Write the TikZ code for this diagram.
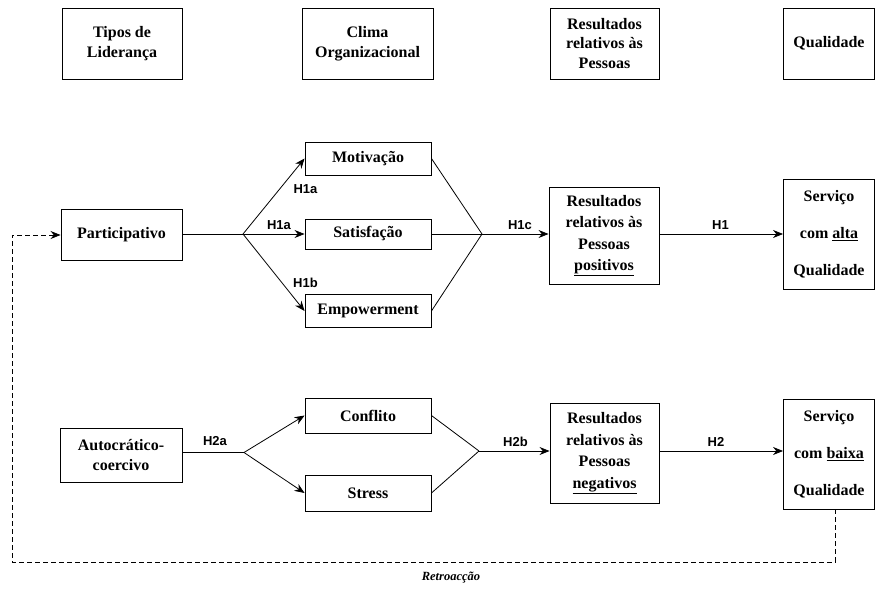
\documentclass[tikz,border=0pt]{standalone}
\usepackage{fontspec}
\setmainfont{Liberation Serif}
\newfontfamily\labfont{Liberation Sans}
\usetikzlibrary{arrows.meta}
\begin{document}
\begin{tikzpicture}[x=1pt,y=-1pt,
  box/.style={draw,line width=0.9pt,inner sep=0pt,align=center,font=\fontsize{16}{19.5}\selectfont\bfseries},
  lab/.style={font=\labfont\bfseries\fontsize{13}{15}\selectfont,inner sep=0pt},
  conn/.style={line width=0.8pt},
  arr/.style={line width=0.8pt,-{Stealth[length=10pt,width=8pt]}},
  fb/.style={line width=0.8pt,dash pattern=on 5pt off 3pt}]
\useasboundingbox (0,0) rectangle (875,594);
% header boxes
\node[box,minimum width=120pt,minimum height=71pt] (tipos) at (122,43.5) {Tipos de\\Liderança};
\node[box,minimum width=131pt,minimum height=71pt] (clima) at (367.5,43.5) {Clima\\Organizacional};
\node[box,minimum width=109pt,minimum height=71pt] (rtop) at (604.5,43.5) {Resultados\\relativos às\\Pessoas};
\node[box,minimum width=91pt,minimum height=71pt] (qtop) at (829,43.5) {Qualidade};
% upper row
\node[box,minimum width=121pt,minimum height=51pt] (part) at (121.5,235) {Participativo};
\node[box,minimum width=126pt,minimum height=33pt] (motiv) at (368,158.5) {Motivação};
\node[box,minimum width=126pt,minimum height=30pt] (satis) at (368,234) {Satisfação};
\node[box,minimum width=126pt,minimum height=33pt] (empow) at (368,311) {Empowerment};
\node[box,minimum width=110pt,minimum height=97pt,font=\fontsize{16}{21.5}\selectfont\bfseries] (rpos) at (604,235.5) {Resultados\\relativos às\\Pessoas\\\underline{positivos}};
\node[box,minimum width=91pt,minimum height=110pt,font=\fontsize{16}{37}\selectfont\bfseries] (alta) at (829,234) {Serviço\\com \underline{alta}\\Qualidade};
\coordinate (b1) at (243,234);
\coordinate (m1) at (482,234);
\draw[conn] (part.east |- b1) -- (b1);
\draw[arr] (b1) -- (motiv.west);
\draw[arr] (b1) -- (satis.west);
\draw[arr] (b1) -- (empow.west);
\draw[conn] (motiv.east) -- (m1);
\draw[conn] (satis.east) -- (m1);
\draw[conn] (empow.east) -- (m1);
\draw[arr] (m1) -- (rpos.west |- m1);
\draw[arr] (rpos.east |- m1) -- (alta.west |- m1);
\node[lab] (l1) at (305.5,189) {H1a};
\node[lab] (l2) at (279,225.5) {H1a};
\node[lab] (l3) at (305.5,283) {H1b};
\node[lab] (l4) at (520,225.5) {H1c};
\node[lab] (l5) at (720.5,225.5) {H1};
% lower row
\node[box,minimum width=122pt,minimum height=54pt] (auto) at (121,455) {Autocrático-\\coercivo};
\node[box,minimum width=126pt,minimum height=35pt] (confl) at (368,415.5) {Conflito};
\node[box,minimum width=126pt,minimum height=36pt] (stress) at (368,493) {Stress};
\node[box,minimum width=109pt,minimum height=100pt,font=\fontsize{16}{21.5}\selectfont\bfseries] (rneg) at (604.5,453) {Resultados\\relativos às\\Pessoas\\\underline{negativos}};
\node[box,minimum width=91pt,minimum height=110pt,font=\fontsize{16}{37}\selectfont\bfseries] (baixa) at (829,454) {Serviço\\com \underline{baixa}\\Qualidade};
\coordinate (b2) at (244,452.5);
\coordinate (m2) at (479,451);
\draw[conn] (auto.east |- b2) -- (b2);
\draw[arr] (b2) -- (confl.west);
\draw[arr] (b2) -- (stress.west);
\draw[conn] (confl.east) -- (m2);
\draw[conn] (stress.east) -- (m2);
\draw[arr] (m2) -- (rneg.west |- m2);
\draw[arr] (rneg.east |- m2) -- (baixa.west |- m2);
\node[lab] (l6) at (215,441.5) {H2a};
\node[lab] (l7) at (515.5,441.5) {H2b};
\node[lab] (l8) at (716,441.5) {H2};
% feedback
\coordinate (fr) at (835,562);
\coordinate (fl) at (12,562);
\draw[fb,-{Stealth[length=10pt,width=8pt]}] (baixa.south -| fr) -- (fr) -- (fl) -- (fl |- part.west) -- (part.west);
\node[font=\fontsize{12.5}{14}\selectfont\bfseries\itshape,inner sep=0pt] (retro) at (451,578) {Retroacção};
\end{tikzpicture}
\end{document}
